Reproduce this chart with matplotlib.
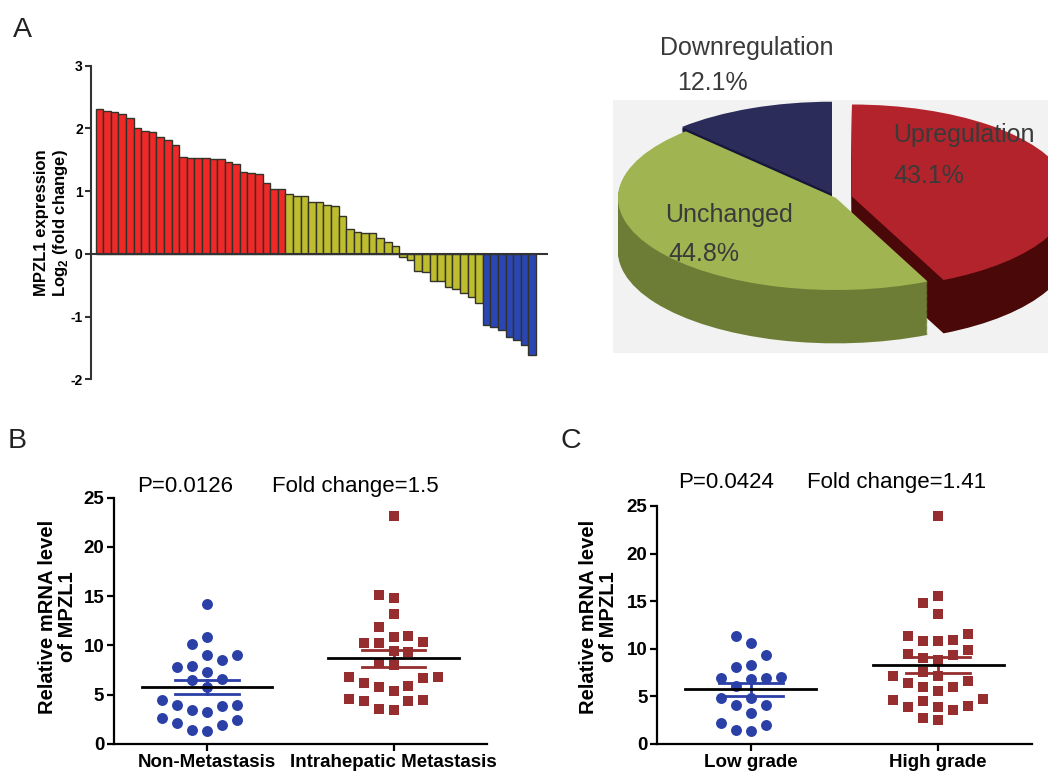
import numpy as np
import matplotlib
matplotlib.use("Agg")
import matplotlib.pyplot as plt

plt.rcParams['font.family'] = ['Liberation Sans', 'DejaVu Sans']
plt.rcParams['mathtext.fontset'] = 'custom'
plt.rcParams['mathtext.bf'] = 'Liberation Sans:bold'
plt.rcParams['mathtext.rm'] = 'Liberation Sans'
plt.rcParams['axes.unicode_minus'] = False

# ---- panel A data: log2 fold change per sample ----
up_vals = [2.31, 2.28, 2.26, 2.23, 2.16, 2.01, 1.96, 1.94, 1.86, 1.82, 1.74,
           1.54, 1.53, 1.53, 1.53, 1.52, 1.51, 1.46, 1.43, 1.31, 1.29, 1.27,
           1.13, 1.04, 1.04]
unchanged_vals = [0.96, 0.93, 0.93, 0.83, 0.82, 0.78, 0.76, 0.61, 0.39, 0.35,
                  0.34, 0.34, 0.25, 0.19, 0.12, -0.05, -0.09, -0.28, -0.29,
                  -0.43, -0.44, -0.53, -0.56, -0.63, -0.69, -0.78]
down_vals = [-1.13, -1.17, -1.22, -1.32, -1.38, -1.46, -1.62]

pie_labels = ['Upregulation', 'Unchanged', 'Downregulation']
pie_pct = [43.1, 44.8, 12.1]

# ---- panel B / C data ----
non_meta = [14.2, 10.9, 10.1, 9.0, 9.0, 8.5, 7.9, 7.8, 7.3, 6.6, 6.5, 5.8,
            4.5, 4.0, 4.0, 3.9, 3.5, 3.2, 2.6, 2.4, 2.1, 1.9, 1.4, 1.3]
intra_meta = [23.1, 15.1, 14.8, 13.2, 11.9, 11.0, 10.9, 10.4, 10.3, 10.3,
              9.4, 9.3, 8.2, 8.0, 6.8, 6.8, 6.7, 6.2, 5.9, 5.8, 5.4, 4.6,
              4.5, 4.4, 4.4, 3.6, 3.5]
low_grade = [11.3, 10.6, 9.4, 8.3, 8.1, 7.0, 6.9, 6.8, 6.9, 6.1, 4.8, 4.8,
             4.1, 4.1, 3.3, 2.0, 1.4, 1.5, 2.2]
high_grade = [24.0, 15.5, 14.8, 13.7, 11.6, 11.3, 10.9, 10.8, 10.8, 9.9,
              9.5, 9.4, 9.0, 8.8, 7.6, 7.1, 7.1, 6.6, 6.4, 6.0, 6.0, 5.6,
              4.7, 4.6, 4.5, 4.0, 3.9, 3.9, 3.6, 2.7, 2.5]

W, H = 1048, 779
fig = plt.figure(figsize=(W / 100, H / 100), dpi=100)


def rect(x0, y0, x1, y1):
    # pixel box -> figure fraction
    return [x0 / W, 1 - y1 / H, (x1 - x0) / W, (y1 - y0) / H]


def ftext(x, y, s, **kw):
    fig.text(x / W, 1 - y / H, s, **kw)


# ================= A: waterfall bars =================
axA = fig.add_axes(rect(91, 65.7, 548, 379.3))
vals = up_vals + unchanged_vals + down_vals
cols = (['#f02828'] * len(up_vals) + ['#bdbd2e'] * len(unchanged_vals)
        + ['#2a46b4'] * len(down_vals))
xs = np.arange(len(vals))
axA.bar(xs, vals, width=1.0, color=cols, edgecolor='#33332a', linewidth=1.0)
axA.axhline(0, color='#333333', lw=1.5)
axA.set_xlim(-1.12, 59.1)
axA.set_ylim(-2, 3)
axA.set_yticks([-2, -1, 0, 1, 2, 3])
axA.set_xticks([])
for s in ['top', 'right', 'bottom']:
    axA.spines[s].set_visible(False)
axA.spines['left'].set_linewidth(1.5)
axA.spines['left'].set_color('#333333')
axA.tick_params(axis='y', direction='out', length=4, width=1.5,
                color='#333333', labelsize=10, pad=2)
for t in axA.get_yticklabels():
    t.set_fontweight('bold')
ftext(52, 223, 'MPZL1 expression\nLog$_{\\mathbf{2}}$ (fold change)',
      rotation=90, ha='center', va='center', fontsize=12,
      fontweight='bold', multialignment='center', linespacing=1.15)

# ================= A: 3D-looking pie =================
axP = fig.add_axes(rect(613, 100, 1048, 353))
axP.set_facecolor('#f2f2f2')
top_cols = ['#b3232b', '#a0b452', '#2b2c5a']
side_cols = ['#4a0808', '#6e7d35', '#17173a']
explode = [0.075, 0.0, 0.05]
depth = 0.58
n_layers = 45
for k in range(n_layers, 0, -1):
    axP.pie(pie_pct, colors=side_cols, explode=explode, startangle=90,
            counterclock=False, center=(0, -depth * k / n_layers),
            wedgeprops=dict(linewidth=0), frame=True)
axP.pie(pie_pct, colors=top_cols, explode=explode, startangle=90,
        counterclock=False, center=(0, 0),
        wedgeprops=dict(linewidth=0), frame=True)
axP.set_aspect('auto')
axP.set_xlim(-223 / 218, 212 / 218)
axP.set_ylim(-155 / 92, 98 / 92)
axP.set_xticks([])
axP.set_yticks([])
for s in axP.spines.values():
    s.set_visible(False)

ptxt = dict(fontsize=18, color='#3a3a3a', va='baseline', ha='left')
ftext(660, 55, pie_labels[2], **ptxt)
ftext(677, 90, f'{pie_pct[2]}%', **ptxt)
ftext(893, 142, pie_labels[0], **ptxt)
ftext(893, 183, f'{pie_pct[0]}%', **ptxt)
ftext(665, 222, pie_labels[1], **ptxt)
ftext(668, 261, f'{pie_pct[1]}%', **ptxt)

ftext(13, 37, 'A', fontsize=20.5, color='#222222', va='baseline')
ftext(8, 448, 'B', fontsize=20.5, color='#222222', va='baseline')
ftext(560, 448, 'C', fontsize=20.5, color='#222222', va='baseline')


# ================= B / C: dot plots =================
def swarm(values, d=0.08, gap=1.4):
    values = np.asarray(values, dtype=float)
    offs = np.zeros(len(values))
    placed = []
    for i in np.argsort(values):
        v = values[i]
        for k in [0, -1, 1, -2, 2, -3, 3, -4, 4, -5, 5]:
            if all(not (kk == k and abs(vv - v) < gap) for kk, vv in placed):
                break
        placed.append((k, v))
        offs[i] = k * d
    return offs


def dot_panel(box, g1, g2, names, ptxt, text_y, ylab_x):
    ax = fig.add_axes(rect(*box))
    blue, red = '#2a40a6', '#962d2f'
    for pos, data, col, mk in [(1, g1, blue, 'o'), (2, g2, red, 's')]:
        data = np.asarray(data)
        ax.scatter(pos + swarm(data), data, s=62 if mk == 'o' else 52,
                   marker=mk, color=col, linewidths=0, zorder=2)
        m = data.mean()
        se = data.std(ddof=1) / np.sqrt(len(data))
        ax.plot([pos - 0.17, pos + 0.17], [m + se, m + se], color=col, lw=2, zorder=3)
        ax.plot([pos - 0.17, pos + 0.17], [m - se, m - se], color=col, lw=2, zorder=3)
        ax.plot([pos, pos], [m - se, m + se], color=col, lw=2, zorder=3)
        ax.plot([pos - 0.35, pos + 0.35], [m, m], color='black', lw=2, zorder=4)
    ax.set_xlim(0.5, 2.5)
    ax.set_ylim(0, 25)
    ax.set_yticks([0, 5, 10, 15, 20, 25])
    ax.set_xticks([1, 2])
    ax.set_xticklabels(names)
    for s in ['top', 'right']:
        ax.spines[s].set_visible(False)
    for s in ['left', 'bottom']:
        ax.spines[s].set_linewidth(1.6)
    ax.tick_params(direction='out', length=5, width=1.6, labelsize=13.5, pad=2)
    for t in ax.get_xticklabels() + ax.get_yticklabels():
        t.set_fontweight('bold')
    ftext(ptxt[0][0], text_y, ptxt[0][1], fontsize=16, va='baseline')
    ftext(ptxt[1][0], text_y, ptxt[1][1], fontsize=16, va='baseline')
    ftext(ylab_x, 617, 'Relative mRNA level\nof MPZL1', rotation=90,
          ha='center', va='center', fontsize=14.5, fontweight='bold',
          multialignment='center', linespacing=1.1)
    return ax


dot_panel((114, 497.7, 486.7, 744), non_meta, intra_meta,
          ['Non-Metastasis', 'Intrahepatic Metastasis'],
          [(137, 'P=0.0126'), (272, 'Fold change=1.5')], 492, 57.5)
dot_panel((657.3, 506, 1031.7, 744), low_grade, high_grade,
          ['Low grade', 'High grade'],
          [(678, 'P=0.0424'), (807, 'Fold change=1.41')], 488, 598.5)

fig.savefig('out.png', dpi=100)
